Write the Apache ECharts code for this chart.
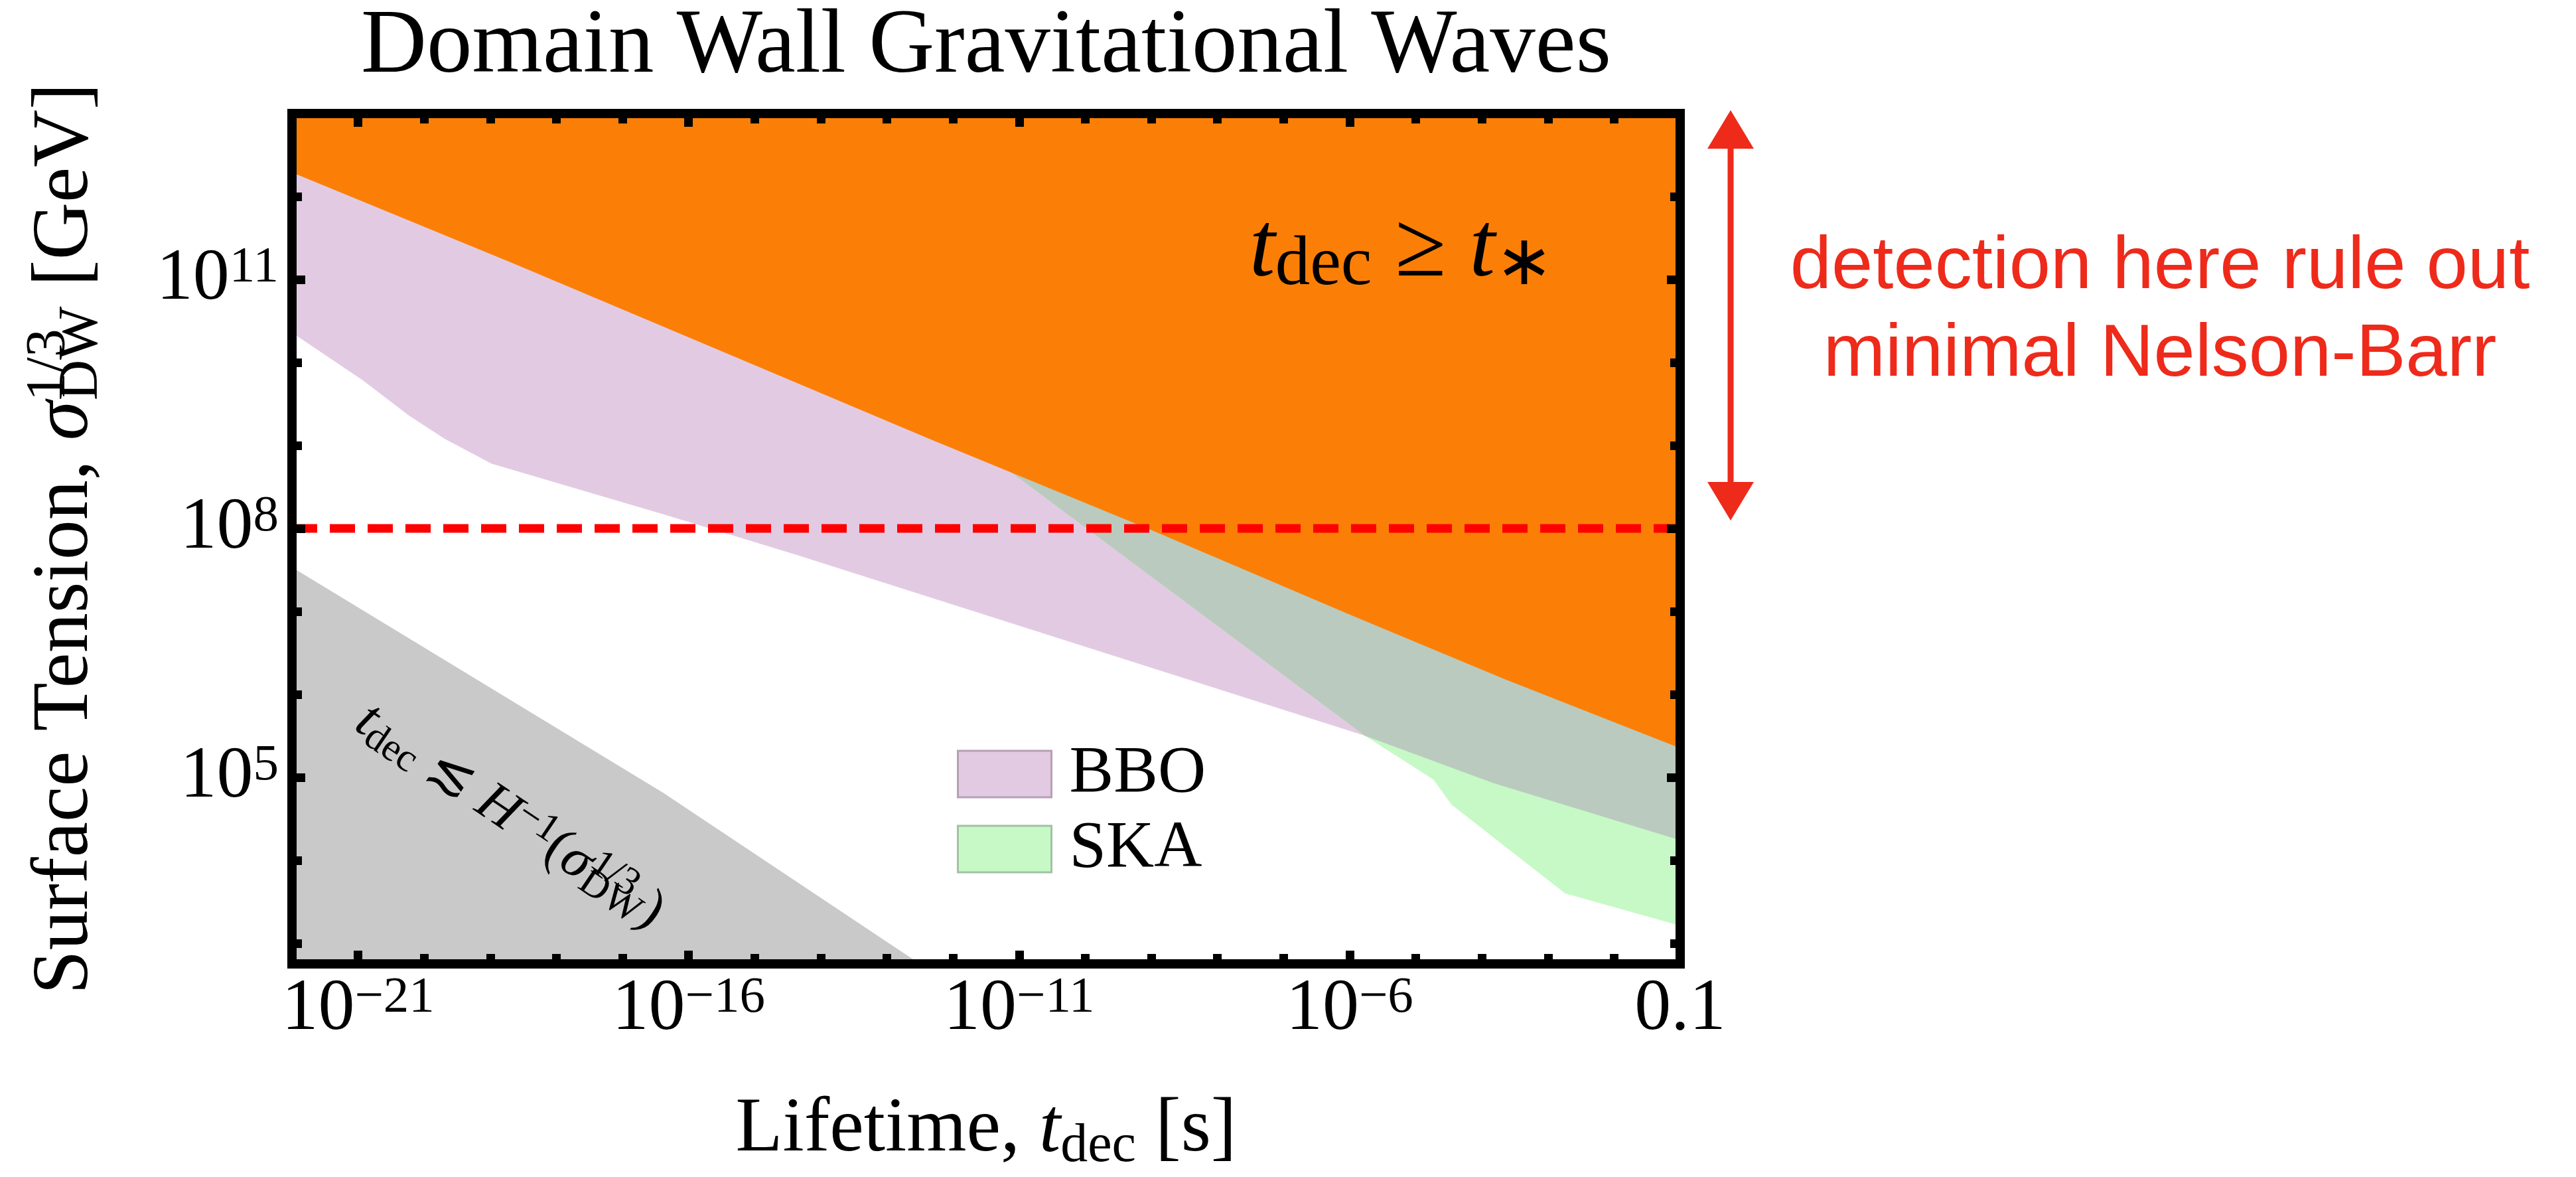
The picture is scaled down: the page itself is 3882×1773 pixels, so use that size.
<!DOCTYPE html>
<html>
<head>
<meta charset="utf-8">
<style>
  html, body { margin: 0; padding: 0; background: #fff; }
  #chart-container { width: 3882px; height: 1773px; }
</style>
<script src="https://cdn.jsdelivr.net/npm/echarts@6/dist/echarts.min.js"></script>
</head>
<body>
<div id="chart-container"></div>
<script>
var dom = document.getElementById("chart-container");
var myChart = echarts.init(dom, null, { renderer: "canvas" });

// every value below is a log10: x = log10(t_dec / s), y = log10(sigma_DW^(1/3) / GeV)
const xRange = [-22, -1];
const yRange = [2.75, 13];

const xMinorTicks = [-21, -20, -19, -18, -17, -16, -15, -14, -13, -12, -11, -10, -9, -8, -7, -6, -5, -4, -3, -2];
const xMajorTicks = [-21, -16, -11, -6];
const xLabelValues = [-21, -16, -11, -6, -1];
const yMinorTicks = [3, 4, 5, 6, 7, 8, 9, 10, 11, 12];
const yMajorTicks = [5, 8, 11];
const yLabelValues = [5, 8, 11];

// lower edge of the t_dec >= t_* region (orange)
const tStarEdge = [[-22, 12.29], [-18.58, 11.17], [-12.36, 9.08], [-9.0, 7.98], [-5.97, 6.95], [-3.65, 6.18], [-1, 5.35]];
// lower edge of the BBO reach
const bboEdge = [[-22, 10.36], [-20.92, 9.78], [-20.23, 9.36], [-19.69, 9.08], [-18.98, 8.78], [-16.38, 8.17], [-14.37, 7.68], [-5.77, 5.5], [-3.83, 4.93], [-1, 4.24]];
// lower / left edge of the SKA reach
const skaEdge = [[-11.23, 8.74], [-9.98, 8.0], [-5.77, 5.5], [-4.73, 4.97], [-4.46, 4.67], [-2.74, 3.6], [-1, 3.21]];
// upper edge of t_dec <~ H^-1 (grey)
const hubbleEdge = [[-22, 7.53], [-16.38, 4.81], [-12.5, 2.75]];
// sigma^(1/3) = 10^8 GeV line
const nelsonBarrLine = [[-22, 8], [-1, 8]];

const serif = "'Liberation Serif', 'Times New Roman', serif";
const sans = "'Liberation Sans', Arial, Helvetica, sans-serif";
const red = "#ee2a1b";

const orangeColor = "#fb7f06";
const bboColor = "#e2cbe2";
const skaColor = "#c6f9c6";
const overlapColor = "#bbcabe";
const greyColor = "#c9c9c9";

// polygons (areas hidden under the orange region close along the top edge)
const topRight = [-1, yRange[1]];
const orangePoly = tStarEdge.concat([topRight, [-22, yRange[1]]]);
const bboPoly = bboEdge.concat([topRight, [-22, yRange[1]]]);
const skaPoly = skaEdge.concat([topRight, [skaEdge[0][0], yRange[1]]]);
const overlapPoly = skaEdge.filter((p) => p[0] <= -5.77)
  .concat(bboEdge.filter((p) => p[0] > -5.77), [topRight, [skaEdge[0][0], yRange[1]]]);
const greyPoly = hubbleEdge.concat([[-22, yRange[0]]]);

function region(name, pts, color, z) {
  return {
    name: name,
    type: "custom",
    z: z,
    silent: true,
    xAxisIndex: 0,
    yAxisIndex: 0,
    itemStyle: { color: color },
    data: pts,
    renderItem: function (params, api) {
      if (params.dataIndex !== 0) return null;
      return {
        type: "polygon",
        shape: { points: pts.map((p) => api.coord(p)) },
        style: { fill: color },
      };
    },
  };
}

const frameLine = { show: true, onZero: false, lineStyle: { color: "#000", width: 14, cap: "square" } };

function tickAxis(range, position, ticks, length, extra) {
  return Object.assign(
    {
      type: "value",
      position: position,
      offset: 0,
      min: range[0],
      max: range[1],
      z: 10,
      axisLine: { show: false, onZero: false },
      splitLine: { show: false },
      axisLabel: { show: false },
      axisTick: {
        show: true,
        inside: true,
        length: length,
        customValues: ticks,
        lineStyle: { color: "#000", width: 13 },
      },
    },
    extra || {}
  );
}

const labelRich = {
  b: { fontFamily: serif, fontSize: 110, lineHeight: 112, padding: [12, 0, 12, 0], color: "#000" },
  s: { fontFamily: serif, fontSize: 77, lineHeight: 78, verticalAlign: "top", color: "#000" },
  z: { fontFamily: serif, fontSize: 110, lineHeight: 112, color: "#000" },
};

function nameRich(size) {
  const sub = Math.round(size * 0.71);
  return {
    n: { fontFamily: serif, fontSize: size, lineHeight: size + 14, align: "left", color: "#000" },
    i: { fontFamily: serif, fontSize: size, lineHeight: size + 14, align: "left", fontStyle: "italic", color: "#000" },
    sb: { fontFamily: serif, fontSize: sub, lineHeight: sub, verticalAlign: "bottom", align: "left", color: "#000" },
    sp: { fontFamily: serif, fontSize: sub, lineHeight: sub, verticalAlign: "top", align: "left", width: 1, color: "#000" },
  };
}

var option = {
  animation: false,
  backgroundColor: "#fff",
  title: {
    text: "Domain Wall Gravitational Waves",
    left: 1486,
    top: 4,
    padding: 0,
    textAlign: "center",
    textStyle: { fontFamily: serif, fontSize: 137, fontWeight: "normal", color: "#000", lineHeight: 137 },
  },
  grid: { left: 440, top: 171, width: 2092, height: 1294 },
  legend: {
    orient: "vertical",
    left: 1442,
    top: 1116,
    padding: 0,
    itemWidth: 141,
    itemHeight: 70,
    itemGap: 13,
    icon: "rect",
    selectedMode: false,
    textStyle: { fontFamily: serif, fontSize: 100, color: "#000", lineHeight: 70, padding: [0, 0, 0, 22] },
    data: [
      { name: "BBO", itemStyle: { color: bboColor, borderColor: "#b6a0b6", borderWidth: 3 } },
      { name: "SKA", itemStyle: { color: skaColor, borderColor: "#a2c2a2", borderWidth: 3 } },
    ],
  },
  xAxis: [
    tickAxis(xRange, "bottom", xMinorTicks, 15, {
      axisLine: frameLine,
      axisLabel: {
        show: true,
        customValues: xLabelValues,
        margin: 13,
        showMinLabel: true,
        showMaxLabel: true,
        fontFamily: serif,
        color: "#000",
        formatter: (v) => (v === -1 ? "{z|0.1}" : "{b|10}{s|\u2212" + -v + "}"),
        rich: labelRich,
      },
      name: "{n|Lifetime, }{i|t}{sb|dec}{n| [s]}",
      nameLocation: "middle",
      nameGap: 186,
      nameTextStyle: { fontFamily: serif, fontSize: 116, color: "#000", rich: nameRich(116) },
    }),
    tickAxis(xRange, "bottom", xMajorTicks, 20),
    tickAxis(xRange, "top", xMinorTicks, 15, { axisLine: frameLine }),
    tickAxis(xRange, "top", xMajorTicks, 20),
  ],
  yAxis: [
    tickAxis(yRange, "left", yMinorTicks, 15, {
      axisLine: frameLine,
      axisLabel: {
        show: true,
        customValues: yLabelValues,
        margin: 20,
        fontFamily: serif,
        color: "#000",
        formatter: (v) => "{b|10}{s|" + v + "}",
        rich: labelRich,
      },
      name: "{n|Surface Tension, }{i|\u03c3}{sp|1/3}{sb|DW}{n| [GeV]}",
      nameLocation: "middle",
      nameRotate: 90,
      nameGap: 274,
      nameTextStyle: { fontFamily: serif, fontSize: 120, color: "#000", rich: nameRich(120) },
    }),
    tickAxis(yRange, "left", yMajorTicks, 20),
    tickAxis(yRange, "right", yMinorTicks, 15, { axisLine: frameLine }),
    tickAxis(yRange, "right", yMajorTicks, 20),
  ],
  graphic: [
    {
      type: "text",
      x: 2112,
      y: 378,
      z: 20,
      style: {
        text: "{i|t}{sb|dec}{n| \u2265 }{i|t}{sb|\u2217}",
        align: "center",
        verticalAlign: "middle",
        rich: {
          i: { fontFamily: serif, fontSize: 140, lineHeight: 150, fontStyle: "italic", fill: "#000" },
          n: { fontFamily: serif, fontSize: 140, lineHeight: 150, fill: "#000" },
          sb: { fontFamily: serif, fontSize: 105, lineHeight: 86, verticalAlign: "bottom", fill: "#000" },
        },
      },
    },
    {
      type: "text",
      x: 768,
      y: 1230,
      z: 20,
      rotation: (-34 * Math.PI) / 180,
      style: {
        text: "{i|t}{sb|dec}{n| \u2272 }{i|H}{sp|\u22121}{n|(}{i|\u03c3}{sp2|1/3}{sb|DW}{n|)}",
        align: "center",
        verticalAlign: "middle",
        rich: {
          i: { fontFamily: serif, fontSize: 84, lineHeight: 92, fontStyle: "italic", align: "left", fill: "#000" },
          n: { fontFamily: serif, fontSize: 84, lineHeight: 92, align: "left", fill: "#000" },
          sb: { fontFamily: serif, fontSize: 60, lineHeight: 60, verticalAlign: "bottom", align: "left", fill: "#000" },
          sp: { fontFamily: serif, fontSize: 60, lineHeight: 60, verticalAlign: "top", align: "left", fill: "#000" },
          sp2: { fontFamily: serif, fontSize: 60, lineHeight: 60, verticalAlign: "top", align: "left", width: 1, fill: "#000" },
        },
      },
    },
    {
      type: "group",
      z: 20,
      children: [
        { type: "line", shape: { x1: 2608, y1: 210, x2: 2608, y2: 740 }, style: { stroke: red, lineWidth: 9 } },
        { type: "polygon", shape: { points: [[2608, 166], [2573, 224], [2643, 224]] }, style: { fill: red } },
        { type: "polygon", shape: { points: [[2608, 784], [2573, 726], [2643, 726]] }, style: { fill: red } },
      ],
    },
    {
      type: "text",
      x: 3255,
      y: 469,
      z: 20,
      style: {
        text: "detection here rule out\nminimal Nelson-Barr",
        align: "center",
        verticalAlign: "middle",
        fontFamily: sans,
        fontSize: 112,
        lineHeight: 132,
        fill: red,
      },
    },
  ],
  series: [
    region("BBO", bboPoly, bboColor, 1),
    region("SKA", skaPoly, skaColor, 2),
    region("BBO and SKA", overlapPoly, overlapColor, 3),
    region("t_dec >= t_*", orangePoly, orangeColor, 4),
    region("t_dec <~ 1/H", greyPoly, greyColor, 4),
    {
      name: "minimal Nelson-Barr",
      type: "line",
      z: 6,
      silent: true,
      data: nelsonBarrLine,
      symbol: "none",
      lineStyle: { color: "#ff0000", width: 13, type: [38, 19] },
    },
  ],
};

if (option && typeof option === "object") {
  myChart.setOption(option);
}

window.addEventListener("resize", myChart.resize);
</script>
</body>
</html>
